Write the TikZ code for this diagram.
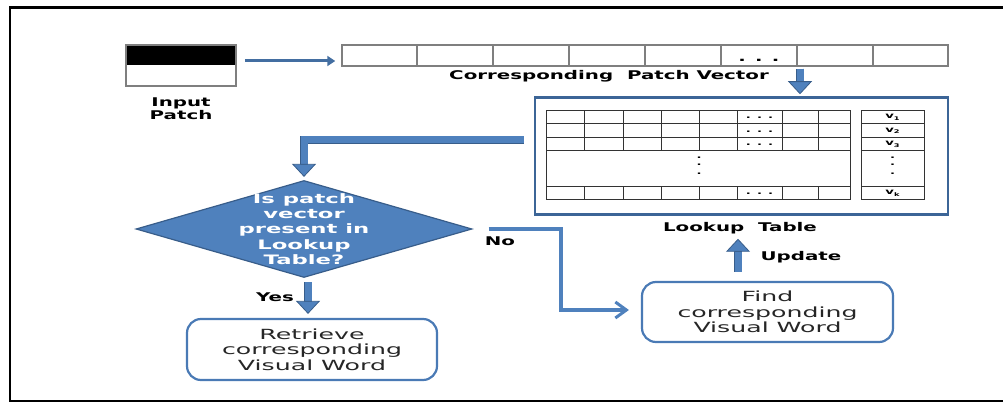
\documentclass[tikz,border=0pt]{standalone}
\usepackage{fontspec}
\usetikzlibrary{arrows.meta,calc,shapes.geometric}

% wide sans faces used for all lettering
\newfontfamily\widesans[FakeStretch=1.65]{DejaVu Sans}
\newfontfamily\diamsans[FakeStretch=1.75]{DejaVu Sans}
\newfontfamily\boxsans[FakeStretch=1.8]{DejaVu Sans}

\definecolor{flowblue}{HTML}{4F81BD}
\definecolor{flowdark}{HTML}{385D8A}
\definecolor{tableblue}{HTML}{3C6597}
\definecolor{boxblue}{HTML}{4A7AB5}
\definecolor{cellgray}{HTML}{7F7F7F}
\definecolor{gridgray}{HTML}{333333}

\tikzset{
  lbl/.style={font=\widesans\bfseries\fontsize{12}{13}\selectfont, align=center, inner sep=0pt},
  blockarrow/.style={draw=flowblue, line width=7pt,
    -{Triangle[width=24pt,length=13pt,fill=flowblue,color=flowdark,line width=0.8pt]},
    preaction={draw=flowdark, line width=8.6pt, -, shorten >=11pt}},
  thinarrow/.style={draw=flowblue!85!black, line width=3pt, -{Triangle[width=10pt,length=8pt]}},
  noline/.style={draw=flowblue, line width=4pt, -{Straight Barb[length=11pt,width=16pt,line width=3pt]}},
  procbox/.style={draw=boxblue, line width=2.2pt, rounded corners=14pt, inner sep=0pt,
    minimum width=250pt, minimum height=61pt, align=center,
    font=\boxsans\fontsize{14}{15.5}\selectfont, text=black!85},
  decision/.style={diamond, draw=flowdark, line width=1.2pt, fill=flowblue, inner sep=0pt,
    minimum width=336pt, minimum height=97pt},
  cellline/.style={draw=cellgray, line width=1.5pt},
  gridline/.style={draw=gridgray, line width=1pt},
  cdots/.style={font=\widesans\bfseries\fontsize{8}{8}\selectfont, inner sep=0pt, anchor=base},
  vlabel/.style={font=\widesans\bfseries\fontsize{8}{9}\selectfont, inner sep=0pt},
}

\newcommand{\vsub}[1]{v\raisebox{-1.5pt}{\fontsize{5}{5}\selectfont #1}}

\begin{document}
\begin{tikzpicture}[x=1pt,y=-1pt]
\useasboundingbox (0,0) rectangle (1003,403);

% open frame
\draw[line width=2.5pt] (1005,7.5) -- (10,7.5) -- (10,401) -- (1005,401);

% input patch: black upper half
\node[cellline, minimum width=110pt, minimum height=41pt, inner sep=0pt,
  path picture={\fill[black] (path picture bounding box.north west) rectangle (path picture bounding box.east);}]
  (patch) at (181,65.5) {};
\node[lbl] (patchlbl) at (181,108.5) {Input\\Patch};

% patch vector with eight cells
\node[cellline, minimum width=606pt, minimum height=21pt, inner sep=0pt] (vec) at (645,55.5) {};
\foreach \i in {1,...,7}
  \draw[cellline] ($(vec.south west)!\i/8!(vec.south east)$) -- ($(vec.north west)!\i/8!(vec.north east)$);
\node[font=\widesans\bfseries\fontsize{12}{12}\selectfont, inner sep=0pt, anchor=base] (vecdots)
  at ($(vec.south west)!11/16!(vec.south east)+(0,-5)$) {. . .};
\node[lbl] (veclbl) at (609,76) {Corresponding\ \ Patch Vector};

\draw[thinarrow] ($(patch.east)+(8,-4.5)$) -- ($(patch.east -| vec.west)+(-6,-4.5)$);

% lookup table
\node[draw=tableblue, line width=2.5pt, minimum width=413pt, minimum height=117pt, inner sep=0pt]
  (lut) at (741.5,156) {};
\draw[gridline] (546,111) rectangle (850,200);
\foreach \y in {124,138,151,187} \draw[gridline] (546,\y) -- (850,\y);
\foreach \x in {584,623,661,699,737,782,818} {
  \draw[gridline] (\x,111) -- (\x,151);
  \draw[gridline] (\x,187) -- (\x,200);
}
\foreach \y in {119,132.5,146,195}
  \node[cdots] at (759.5,\y) {. . .};
\foreach \y in {159,166,174.5}
  \node[cdots] at (699,\y) {.};

\draw[gridline] (861,111) rectangle (924,200);
\foreach \y in {124,138,151,187} \draw[gridline] (861,\y) -- (924,\y);
\node[vlabel] (v1) at (892.5,117.5) {\vsub{1}};
\node[vlabel] (v2) at (892.5,131) {\vsub{2}};
\node[vlabel] (v3) at (892.5,144.5) {\vsub{3}};
\foreach \y in {159,166,174.5}
  \node[cdots] at (892.5,\y) {.};
\node[vlabel] (vk) at (892.5,193.5) {\vsub{k}};
\node[lbl] (lutlbl) at (740,228) {Lookup\ \ Table};

\coordinate (drop) at ($(vec.south)+(155,0)$);
\draw[blockarrow] ($(drop)+(0,2)$) -- ($(drop |- lut.north)+(0,-2)$);

% decision
\node[decision,
  label={[font=\diamsans\bfseries\fontsize{13}{15.2}\selectfont, text=white, align=center, inner sep=0pt]center:{Is patch\\vector\\present in\\Lookup\\Table?}}]
  (dec) at (304,229) {};
\draw[blockarrow] ($(lut.west)+(-10,-16)$) -| ($(dec.north)+(0,-3)$);

% outcomes
\node[procbox] (ret) at (312,349.5) {Retrieve\\corresponding\\Visual Word};
\node[procbox, minimum width=251pt, minimum height=60pt] (find) at (767.5,312) {Find\\corresponding\\Visual Word};

\draw[blockarrow] ($(dec.south)+(4,4)$) -- ($(dec.south |- ret.north)+(4,-4)$);
\node[lbl] (yes) at (275,297) {Yes};

\draw[noline] ($(dec.east)+(16,0)$) -- ++(72,0) |- ($(find.west)+(-12,-2)$);
\node[lbl] (no) at (500,241) {No};

\draw[blockarrow] ($(find.north)+(-29.5,-9)$) -- ($(lut.south)+(-3.5,23)$);
\node[lbl] (upd) at (801,257) {Update};
\end{tikzpicture}
\end{document}
